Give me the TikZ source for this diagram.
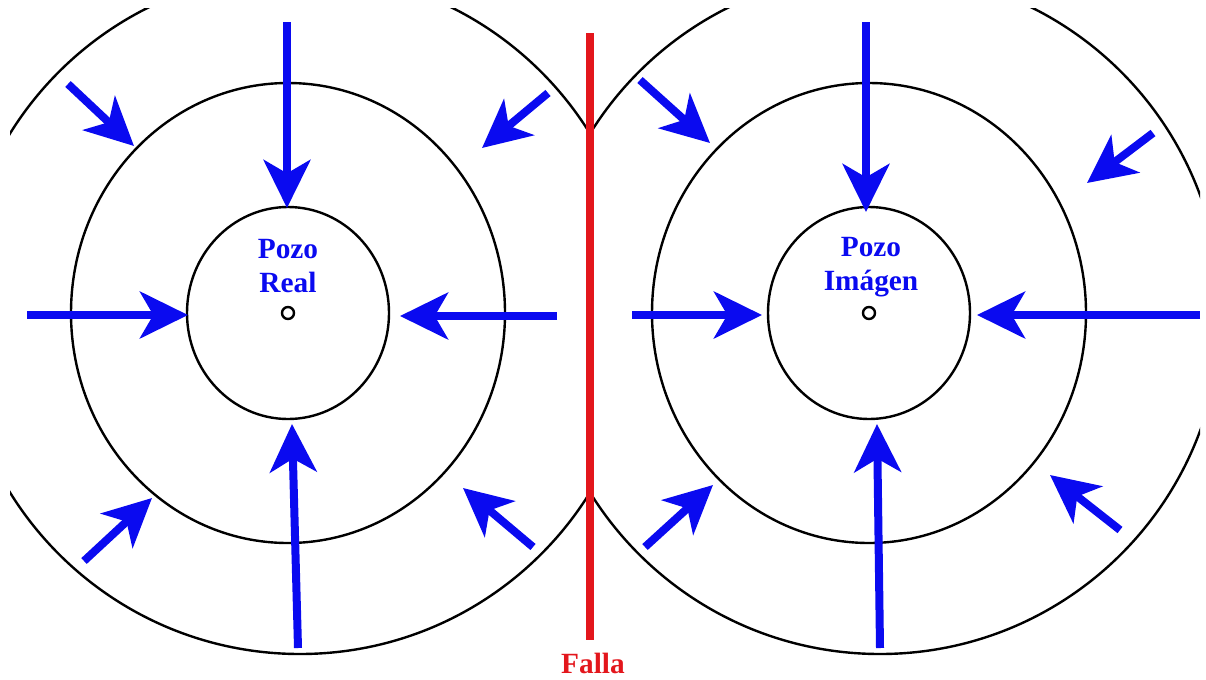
\documentclass[tikz,border=0pt]{standalone}
\usepackage{fontspec}
\setmainfont{Liberation Serif}
\usepackage{tikz}
\usetikzlibrary{arrows.meta}
\definecolor{fBlue}{HTML}{0A0AF0}
\definecolor{fRed}{HTML}{E3161C}
\tikzset{
ring/.style={black,line width=1.8pt},
flow/.style={fBlue,line width=6pt,-{Stealth[length=36pt,width=35pt,inset=10pt]}},
wellmark/.style={black,line width=1.8pt},
lbl/.style={font=\bfseries\fontsize{22}{26}\selectfont,align=center}
}

\begin{document}
\begin{tikzpicture}[x=0.75pt,y=-0.75pt]
\useasboundingbox (0,0) rectangle (1206,679);

% centres of the two wells
\coordinate (wellL) at (288,313);
\coordinate (wellR) at (869,313);

% outer rings, cut at the fault
\begin{scope}
\clip (10,8) rectangle (590,679);
\draw[ring] (300,313) circle [radius=341];
\end{scope}
\begin{scope}
\clip (590,8) rectangle (1200,679);
\draw[ring] (880,313) circle [radius=341];
\end{scope}

% middle and inner rings
\foreach \c in {wellL,wellR} {
  \draw[ring] (\c) ellipse [x radius=217, y radius=230];
  \draw[ring] (\c) ellipse [x radius=101, y radius=106];
  \draw[wellmark] (\c) circle [radius=6];
}

% fault
\coordinate (faultTop) at (590,33);
\coordinate (faultBot) at (590,640);
\draw[fRed,line width=6pt] (faultTop) -- (faultBot);
\node[lbl,text=fRed] (falla) at (593,663) {Falla};

% flow towards the wells
\foreach \xa/\ya/\xb/\yb in {
  287/22/287/208, 27/315/188/315, 557/316/400/316, 298/648/292/424,
  68/84/134/146, 548/93/482/148, 84/561/152/498, 533/547/463/488,
  866/22/866/212, 632/315/762/315, 1200/315/977/315, 880/648/877/424,
  640/80/710/143, 1153/133/1087/183, 645/547/713/485, 1120/530/1050/475} {
  \draw[flow] (\xa,\ya) -- (\xb,\yb);
}

% labels
\node[lbl,text=fBlue] (realLbl) at (288,266) {Pozo\\Real};
\node[lbl,text=fBlue] (imgLbl) at (871,267) {Pozo\\Imágen};
\end{tikzpicture}
\end{document}
